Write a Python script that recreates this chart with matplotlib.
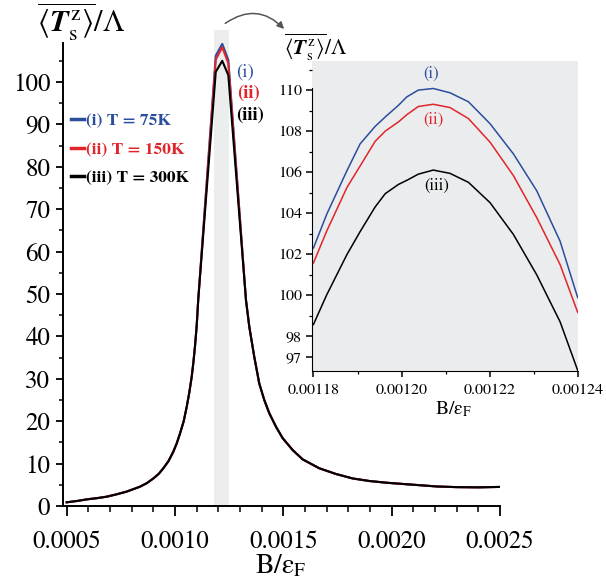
import matplotlib
matplotlib.use('Agg')
import matplotlib.pyplot as plt
from matplotlib.ticker import MultipleLocator, FixedLocator, StrMethodFormatter

plt.rcParams['font.family'] = 'STIXGeneral'
plt.rcParams['mathtext.fontset'] = 'stix'

# main panel: B/eF vs <Ts^z>/Lambda for three temperatures
b_main = [0.0005, 0.00055, 0.000595, 0.00064, 0.000685, 0.00073, 0.000777,
          0.000838, 0.00087, 0.0009, 0.000925, 0.000946, 0.00097, 0.000992,
          0.001008, 0.001023, 0.00104, 0.001054, 0.001066, 0.001077,
          0.001085, 0.001092, 0.0011, 0.001107,
          0.001188, 0.001218, 0.001246,
          0.0013274, 0.0013427, 0.0013657, 0.0013888, 0.0014119, 0.001435,
          0.0014659, 0.0014968, 0.0015429, 0.001589, 0.0016657, 0.0017427,
          0.0018198, 0.0018964, 0.0019735, 0.0020505, 0.00213, 0.00221,
          0.0023, 0.0024, 0.0025]
tail_left = [0.87, 1.2, 1.58, 1.85, 2.2, 2.75, 3.4, 4.55, 5.4, 6.5, 7.6, 8.9,
             10.6, 12.8, 14.8, 17.1, 20.0, 23.4, 26.8, 30.5, 34.0, 37.6,
             42.5, 48.6]
tail_right = [48.6, 42.3, 35.2, 28.9, 25.0, 21.9, 18.7, 16.0, 13.2, 11.0,
              8.9, 7.55, 6.5, 5.9, 5.5, 5.2, 4.9, 4.6, 4.45, 4.4, 4.5]
t75_main = tail_left + [106.2, 109.0, 105.2] + tail_right
t150_main = tail_left + [105.3, 108.2, 104.4] + tail_right
t300_main = tail_left + [102.4, 105.0, 101.6] + tail_right

# zoomed window around the peak
b_zoom = [0.001180, 0.001183, 0.0011876, 0.0011906, 0.001194, 0.0011963,
          0.0011993, 0.0012012, 0.0012038, 0.0012072, 0.001211, 0.0012152,
          0.0012201, 0.0012254, 0.0012307, 0.001236, 0.00124]
t75_zoom = [102.3, 103.94, 106.07, 107.38, 108.23, 108.69, 109.26, 109.67,
            110.0, 110.08, 109.87, 109.43, 108.36, 106.89, 105.09, 102.63,
            99.88]
t150_zoom = [101.57, 103.12, 105.25, 106.3, 107.5, 108.0, 108.45, 108.8,
             109.2, 109.31, 109.15, 108.61, 107.46, 105.83, 103.78, 101.49,
             99.16]
t300_zoom = [98.57, 100.01, 101.98, 103.1, 104.3, 104.95, 105.4, 105.6,
             105.9, 106.1, 105.94, 105.5, 104.51, 102.96, 100.99, 98.70,
             96.33]

labels = ['(i) T = 75K', '(ii) T = 150K', '(iii) T = 300K']
colors = ['#2b4d9e', '#e0252b', '#000000']
band = (0.00118, 0.00125)

ylab = r'$\overline{\langle \mathbfit{T}_{\mathrm{s}}^{\,\mathrm{z}}\rangle}/\Lambda$'
xlab = r'B/ε$_{\mathrm{F}}$'

W, H = 606, 581
fig = plt.figure(figsize=(W / 100, H / 100), dpi=100)

ax = fig.add_axes([62.7 / W, 75 / H, 437.3 / W, 463 / H])
ax.axvspan(band[0], band[1], ymin=0, ymax=112.3 / 109.2, color='#eceded',
           lw=0, clip_on=False, zorder=0)
lines = []
for vals, c in zip([t75_main, t150_main, t300_main], colors):
    ln, = ax.plot(b_main, vals, color=c, lw=1.5)
    lines.append(ln)
ax.set_xlim(0.0004815, 0.0025)
ax.set_ylim(0, 109.2)
for s in ['top', 'right']:
    ax.spines[s].set_visible(False)
for s in ['left', 'bottom']:
    ax.spines[s].set_linewidth(1.4)
ax.xaxis.set_major_locator(FixedLocator([0.0005, 0.0010, 0.0015, 0.0020, 0.0025]))
ax.xaxis.set_minor_locator(MultipleLocator(0.0001))
ax.xaxis.set_major_formatter(StrMethodFormatter('{x:.4f}'))
ax.yaxis.set_major_locator(FixedLocator(list(range(0, 101, 10))))
ax.yaxis.set_minor_locator(MultipleLocator(5))
ax.tick_params(axis='both', which='major', labelsize=18, width=1.3)
ax.tick_params(axis='x', which='major', length=7, pad=10)
ax.tick_params(axis='x', which='minor', length=4, width=1.1)
ax.tick_params(axis='y', which='major', length=5, pad=4)
ax.tick_params(axis='y', which='minor', length=3, width=1.1)

leg = ax.legend(lines, labels, loc='upper left',
                bbox_to_anchor=(71 / W, 1 - 113 / H), bbox_transform=fig.transFigure,
                frameon=False, handlelength=0.75, handletextpad=0.1,
                labelspacing=0.78, borderpad=0, borderaxespad=0,
                labelcolor='linecolor', prop={'weight': 'bold', 'size': 12.5})
for h in leg.legend_handles:
    h.set_linewidth(2.5)

ax.text(0.001323, 102.4, '(i)', color=colors[0], fontsize=13.5,
        ha='center', va='center')
ax.text(0.001337, 97.4, '(ii)', color=colors[1], fontsize=13.5,
        fontweight='bold', ha='center', va='center')
ax.text(0.001346, 92.2, '(iii)', color=colors[2], fontsize=13.5,
        fontweight='bold', ha='center', va='center')

fig.text(37 / W, 1 - 22 / H, ylab, fontsize=22, ha='left', va='center')
fig.text(281 / W, 1 - 566 / H, xlab, fontsize=20, ha='center', va='center')

# inset
ins = fig.add_axes([311.7 / W, (H - 371) / H, 266 / W, 310 / H])
ins.set_facecolor('#ebeced')
for vals, c in zip([t75_zoom, t150_zoom, t300_zoom], colors):
    ins.plot(b_zoom, vals, color=c, lw=1.1)
ins.set_xlim(0.0011796, 0.00124)
ins.set_ylim(96.3, 111.42)
for s in ['top', 'right']:
    ins.spines[s].set_visible(False)
ins.spines['left'].set_bounds(96.3, 110.1)
ins.xaxis.set_major_locator(FixedLocator([0.00118, 0.00120, 0.00122, 0.00124]))
ins.xaxis.set_minor_locator(MultipleLocator(0.00001))
ins.xaxis.set_major_formatter(StrMethodFormatter('{x:.5f}'))
ins.yaxis.set_major_locator(FixedLocator([97, 98, 100, 102, 104, 106, 108, 110]))
ins.yaxis.set_minor_locator(MultipleLocator(1))
ins.tick_params(axis='both', which='major', labelsize=11.5, length=4, width=1.1)
ins.tick_params(axis='both', which='minor', length=2.5, width=0.9)
ins.tick_params(axis='x', which='major', pad=5)
ins.tick_params(axis='y', which='major', pad=3)

ins.text(0.0012066, 110.79, '(i)', color=colors[0], fontsize=12,
         ha='center', va='center')
ins.text(0.0012072, 108.56, '(ii)', color=colors[1], fontsize=12,
         ha='center', va='center')
ins.text(0.0012080, 105.33, '(iii)', color=colors[2], fontsize=12,
         ha='center', va='center')

fig.text(453 / W, 1 - 409 / H, xlab, fontsize=14, ha='center', va='center')
fig.text(284 / W, 1 - 47 / H, ylab, fontsize=15.5, ha='left', va='center')

# curved pointer from the shaded band to the inset
ax.annotate('', xy=(286 / W, 1 - 31 / H), xytext=(223 / W, 1 - 25 / H),
            xycoords='figure fraction', textcoords='figure fraction',
            arrowprops=dict(arrowstyle='-|>', connectionstyle='arc3,rad=-0.45',
                            color='#555555', lw=1.1, mutation_scale=10))

fig.savefig('out.png', dpi=100)
